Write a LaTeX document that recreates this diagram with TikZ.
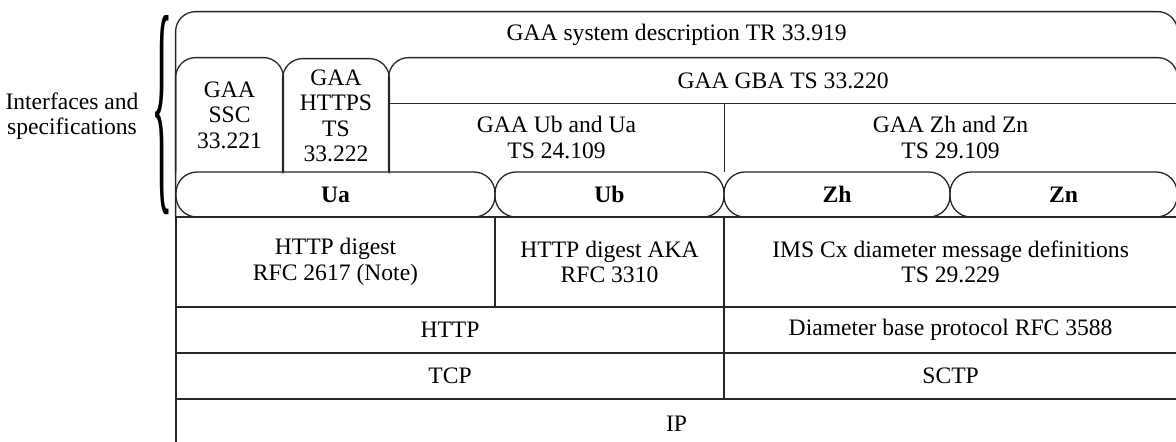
\documentclass[tikz,border=0pt]{standalone}
\usepackage{fontspec}
\usepackage{graphicx}
\setmainfont{Liberation Serif}

\tikzset{
  rule/.style={draw=black!85,line width=0.65pt},
  area/.style={inner sep=0pt,align=center},
  cell/.style={area,rule},
  pill/.style={cell,rounded corners=10.5pt,minimum height=22.5pt,font=\fontsize{11.8}{12.75}\selectfont\bfseries},
  frame/.style={rule,rounded corners=10pt},
}

\begin{document}
\begin{tikzpicture}[x=0.5pt,y=-0.5pt,font=\fontsize{11.8}{12.75}\selectfont]
\useasboundingbox (0,0) rectangle (1176,441);

% specification boxes
\node[area,minimum width=500.6pt,minimum height=23pt] (sys) at (676.6,35) {GAA system description TR 33.919};
\node[area,minimum width=53.5pt,minimum height=57pt] (ssc) at (229.5,115) {GAA\\SSC\\33.221};
\node[area,minimum width=53pt,minimum height=57pt] (https) at (336,116) {GAA\\HTTPS\\TS\\33.222};
\node[area,minimum width=394.1pt,minimum height=22.5pt] (gba) at (783.1,80.5) {GAA GBA TS 33.220};
\node[area,minimum width=167.5pt,minimum height=34.5pt] (ubua) at (556.5,137.5) {GAA Ub and Ua\\TS 24.109};
\node[area,minimum width=226.6pt,minimum height=34.5pt] (zhzn) at (950.6,137.5) {GAA Zh and Zn\\TS 29.109};

% interfaces
\node[pill,minimum width=159.5pt] (ua) at (335.5,194.5) {Ua};
\node[pill,minimum width=114.5pt] (ub) at (609.5,194.5) {Ub};
\node[pill,minimum width=113pt] (zh) at (837,194.5) {Zh};
\node[pill,minimum width=113.6pt] (zn) at (1063.6,194.5) {Zn};

\draw[frame] (sys.west |- ua.south) |- (sys.north east) -- (sys.east |- zn.south);
\draw[frame] (ssc.south west) |- (ssc.north east) -- (ssc.south east);
\draw[frame] (https.south west) |- (https.north east) -- (https.south east);
\draw[frame] (ubua.south west) |- (gba.north east) -- (zhzn.south east);
\draw[rule] (gba.south west) -- (gba.south east);
\draw[rule] (ubua.north east) -- (ubua.south east);

% protocol stack
\node[cell,minimum width=159.5pt,minimum height=45pt] (digest) at (335.5,262) {HTTP digest\\RFC 2617 (Note)};
\node[cell,minimum width=114.5pt,minimum height=45pt] (aka) at (609.5,262) {HTTP digest AKA\\RFC 3310};
\node[cell,minimum width=226.6pt,minimum height=45pt] (cx) at (950.6,262) {IMS Cx diameter message definitions\\TS 29.229};
\node[cell,minimum width=274pt,minimum height=23pt] (http) at (450,330) {HTTP};
\node[cell,minimum width=226.6pt,minimum height=23pt] (diam) at (950.6,330) {Diameter base protocol RFC 3588};
\node[cell,minimum width=274pt,minimum height=23pt] (tcp) at (450,376) {TCP};
\node[cell,minimum width=226.6pt,minimum height=23pt] (sctp) at (950.6,376) {SCTP};
\node[cell,minimum width=500.6pt,minimum height=24.5pt] (ip) at (676.6,423.5) {IP};

% brace and its label
\node[inner sep=0pt] (brace) at (162,115.5) {\scalebox{1.9}[10.2]{\{}};
\node[align=center] (ifspec) at (72,116) {Interfaces and\\specifications};
\end{tikzpicture}
\end{document}
